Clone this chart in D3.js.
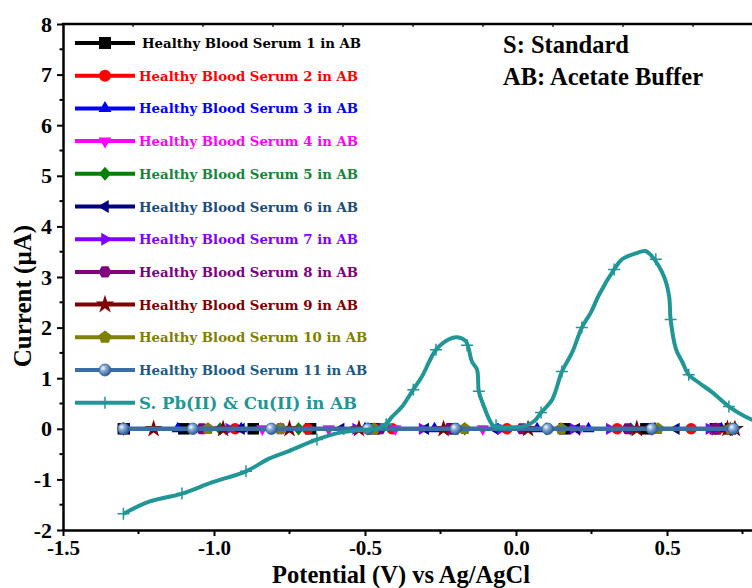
<!DOCTYPE html>
<html><head><meta charset="utf-8">
<script src="https://cdn.jsdelivr.net/npm/d3@7"></script>
<style>body{margin:0;background:#fff} svg{display:block}</style>
</head><body><svg id="c" width="752" height="588"></svg>
<script>
// ---------------- DATA ----------------
const seriesNames = [
  "Healthy Blood Serum 1 in AB","Healthy Blood Serum 2 in AB","Healthy Blood Serum 3 in AB",
  "Healthy Blood Serum 4 in AB","Healthy Blood Serum 5 in AB","Healthy Blood Serum 6 in AB",
  "Healthy Blood Serum 7 in AB","Healthy Blood Serum 8 in AB","Healthy Blood Serum 9 in AB",
  "Healthy Blood Serum 10 in AB","Healthy Blood Serum 11 in AB"
];
const standardName = "S. Pb(II) & Cu(II) in AB";
const seriesColors = ["#000000","#ff0000","#0000ff","#ff00ff","#008000","#000080","#8000ff","#800080","#800000","#808000","#3a6ea5"];
const textColors   = ["#000000","#ff0000","#0000ff","#ff00ff","#13873b","#1a4c7e","#8000ff","#800080","#800000","#808000","#1a5a82"];
const seriesSymbols = ["square","circle","triUp","triDown","diamond","triLeft","triRight","hexagon","star","pentagon","sphere"];
const standardColor = "#209696";

// potentials (V) of the plotted points of each healthy serum series
const serumPotentials = [
  [-1.30,-1.10,-0.87,-0.68,-0.47,-0.21,0.16,0.43,0.66,0.71],
  [-1.30,-0.93,-0.69,-0.41,-0.03,0.335,0.58,0.67,0.71],
  [-1.30,-1.12,-0.91,-0.50,-0.27,0.07,0.24,0.46,0.68,0.71],
  [-1.30,-0.84,-0.62,-0.40,-0.11,0.21,0.45,0.65,0.71],
  [-1.30,-0.98,-0.72,-0.49,-0.17,0.10,0.38,0.66,0.71],
  [-1.29,-0.91,-0.58,-0.30,-0.07,0.20,0.53,0.70],
  [-1.30,-0.95,-0.53,-0.31,-0.05,0.19,0.31,0.64,0.71],
  [-1.30,-1.04,-0.78,-0.45,-0.22,0.02,0.37,0.66,0.71],
  [-1.20,-0.97,-0.75,-0.52,-0.24,0.04,0.40,0.70,0.725],
  [-1.30,-1.02,-0.78,-0.47,-0.17,0.15,0.47,0.71],
  [-1.30,-1.07,-0.81,-0.49,-0.20,0.105,0.45,0.72]
];
// currents (µA) of those points
const serumCurrents = [
  [0,0,0,0,0,0,0,0,0,0],
  [0,0,0,0,0,0,0,0,0],
  [0,0,0,0,0,0,0,0,0,0],
  [0,0,0,0,0,0,0,0,0],
  [0,0,0,0,0,0,0,0,0],
  [0,0,0,0,0,0,0,0],
  [0,0,0,0,0,0,0,0,0],
  [0,0,0,0,0,0,0,0,0],
  [0,0,0,0,0,0,0,0,0],
  [0,0,0,0,0,0,0,0],
  [0,0,0,0,0,0,0,0]
];

// standard Pb(II) & Cu(II) curve
const stdPotential = [-1.30,-1.215,-1.106,-1.007,-0.894,-0.818,-0.752,-0.659,-0.586,-0.50,-0.46,-0.43,-0.41,-0.377,-0.344,-0.311,-0.265,-0.222,-0.195,-0.166,-0.146,-0.129,-0.123,-0.106,-0.089,-0.073,-0.023,0.026,0.06,0.083,0.12,0.152,0.186,0.218,0.248,0.275,0.325,0.351,0.397,0.43,0.45,0.49,0.507,0.512,0.53,0.55,0.572,0.606,0.65,0.705,0.76,0.79];
const stdCurrent   = [-1.68,-1.44,-1.28,-1.06,-0.84,-0.59,-0.44,-0.21,-0.08,-0.02,0.0,0.10,0.24,0.44,0.74,1.04,1.56,1.77,1.81,1.73,1.33,1.17,0.74,0.44,0.19,0.05,0.03,0.05,0.15,0.32,0.58,1.13,1.51,2.00,2.30,2.65,3.15,3.35,3.47,3.51,3.41,3.01,2.62,2.16,1.57,1.33,1.07,0.91,0.72,0.44,0.24,0.16];
const stdMarkerPotential = [-1.30,-1.106,-0.894,-0.659,-0.43,-0.340,-0.265,-0.162,-0.123,-0.066,0.083,0.152,0.218,0.325,0.463,0.512,0.572,0.705];
const stdMarkerCurrent   = [-1.68,-1.28,-0.84,-0.21,0.09,0.77,1.56,1.65,0.74,0.07,0.32,1.13,2.00,3.15,3.35,2.16,1.07,0.44];

const xMajorTicks = [-1.5,-1.0,-0.5,0.0,0.5];
const xMinorTicks = [-1.25,-0.75,-0.25,0.25,0.75];
const yMajorTicks = [-2,-1,0,1,2,3,4,5,6,7,8];
const yMinorTicks = [-1.5,-0.5,0.5,1.5,2.5,3.5,4.5,5.5,6.5,7.5];

const xTitle = "Potential (V) vs Ag/AgCl";
const yTitle = "Current (\u00B5A)";
const notes = ["S: Standard","AB: Acetate Buffer"];

// ---------------- CHART ----------------
const svg = d3.select("#c");
const L = 63, T = 24, B = 530;
const x = d3.scaleLinear().domain([-1.5, 0.8]).range([L, 757.6]);
const y = d3.scaleLinear().domain([-2, 8]).range([B, T]);
const serif = "'Liberation Serif','Times New Roman',serif";
const legendFont = "'DejaVu Serif',serif";

const defs = svg.append("defs");
const grad = defs.append("radialGradient").attr("id","sph").attr("cx","35%").attr("cy","35%").attr("r","65%");
grad.append("stop").attr("offset","0%").attr("stop-color","#ffffff");
grad.append("stop").attr("offset","35%").attr("stop-color","#8fb0d6");
grad.append("stop").attr("offset","100%").attr("stop-color","#2f5f96");
defs.append("clipPath").attr("id","clip").append("rect").attr("x",L).attr("y",T).attr("width",752-L).attr("height",B-T);

function poly(n, r, rot) {
  const pts = [];
  for (let k = 0; k < n; k++) {
    const a = rot + k * 2 * Math.PI / n;
    pts.push([r * Math.cos(a), r * Math.sin(a)]);
  }
  return "M" + pts.map(p => p[0].toFixed(2) + "," + p[1].toFixed(2)).join("L") + "Z";
}
function symbolPath(type, s) {
  switch (type) {
    case "square": return `M${-s/2},${-s/2}h${s}v${s}h${-s}z`;
    case "circle": return d3.symbol(d3.symbolCircle, Math.PI * (s/2) * (s/2))();
    case "triUp": return poly(3, s*0.62, -Math.PI/2);
    case "triDown": return poly(3, s*0.62, Math.PI/2);
    case "triLeft": return poly(3, s*0.62, Math.PI);
    case "triRight": return poly(3, s*0.62, 0);
    case "diamond": return `M0,${-s*0.58}L${s*0.5},0L0,${s*0.58}L${-s*0.5},0Z`;
    case "hexagon": return poly(6, s*0.55, 0);
    case "pentagon": return poly(5, s*0.56, -Math.PI/2);
    case "star": return d3.symbol(d3.symbolStar, s*s*0.75)();
    case "sphere": return d3.symbol(d3.symbolCircle, Math.PI * (s/2) * (s/2))();
  }
}
function drawMarker(g, type, color, cx, cy, s) {
  const p = g.append("path").attr("d", symbolPath(type, s)).attr("transform", `translate(${cx},${cy})`);
  if (type === "sphere") p.attr("fill","url(#sph)").attr("stroke","#2f5f96").attr("stroke-width",0.8);
  else p.attr("fill", color);
}

const plot = svg.append("g").attr("clip-path","url(#clip)");
const line = d3.line().x(d => x(d[0])).y(d => y(d[1]));

// serum series
serumPotentials.forEach((pv, si) => {
  const pts = pv.map((v, k) => [v, serumCurrents[si][k]]);
  const g = plot.append("g");
  g.append("path").attr("d", line(pts)).attr("fill","none")
    .attr("stroke", seriesColors[si]).attr("stroke-width", si === 10 ? 4.5 : 3.5);
  pts.forEach(p => drawMarker(g, seriesSymbols[si], seriesColors[si], x(p[0]), y(p[1]), 11.5));
});

// standard
const stdLine = d3.line().x(d => x(d[0])).y(d => y(d[1])).curve(d3.curveCatmullRom.alpha(0.5));
plot.append("path").attr("d", stdLine(stdPotential.map((v,k)=>[v, stdCurrent[k]])))
  .attr("fill","none").attr("stroke", standardColor).attr("stroke-width", 4).attr("stroke-linejoin","round");
stdMarkerPotential.forEach((v, k) => {
  const cx = x(v), cy = y(stdMarkerCurrent[k]);
  plot.append("path").attr("d", `M${cx-6},${cy}H${cx+6}M${cx},${cy-6}V${cy+6}`)
    .attr("stroke", standardColor).attr("stroke-width", 1.5);
});

// axes
const xAxis = d3.axisBottom(x).tickValues(xMajorTicks).tickFormat(d => d.toFixed(1)).tickSize(6).tickSizeOuter(0).tickPadding(4);
const gx = svg.append("g").attr("transform", `translate(0,${B})`).call(xAxis);
gx.select(".domain").attr("stroke-width", 2.5);
gx.selectAll(".tick line").attr("stroke-width", 2);
gx.selectAll("text").attr("font-family", serif).attr("font-weight","bold").attr("font-size", 21).attr("fill","#000");
gx.selectAll(".minor").data(xMinorTicks).enter().append("line").attr("class","minor")
  .attr("x1", d => x(d)).attr("x2", d => x(d)).attr("y1", 0).attr("y2", 4).attr("stroke","#000").attr("stroke-width",2);

const yAxis = d3.axisLeft(y).tickValues(yMajorTicks).tickFormat(d => String(d).replace("\u2212","-")).tickSize(6).tickSizeOuter(0).tickPadding(5);
const gy = svg.append("g").attr("transform", `translate(${L},0)`).call(yAxis);
gy.select(".domain").attr("stroke-width", 2.5);
gy.selectAll(".tick line").attr("stroke-width", 2);
gy.selectAll("text").attr("font-family", serif).attr("font-weight","bold").attr("font-size", 22).attr("fill","#000");
gy.selectAll(".minor").data(yMinorTicks).enter().append("line").attr("class","minor")
  .attr("x1", 0).attr("x2", -3.5).attr("y1", d => y(d)).attr("y2", d => y(d)).attr("stroke","#000").attr("stroke-width",2);

// top frame with small inner ticks
const xTop = d3.scaleLinear().domain([0, 10]).range([L, L + 700]);
svg.append("line").attr("x1", L - 1.2).attr("x2", 760).attr("y1", T).attr("y2", T).attr("stroke","#000").attr("stroke-width",2.5);
svg.append("g").selectAll("line").data(d3.range(1, 10)).enter().append("line")
  .attr("x1", d => xTop(d)).attr("x2", d => xTop(d)).attr("y1", T).attr("y2", T + 3).attr("stroke","#000").attr("stroke-width",1.2);

// titles
svg.append("text").attr("x", 401).attr("y", 582.5).attr("text-anchor","middle")
  .attr("font-family", serif).attr("font-weight","bold").attr("font-size", 24.5).text(xTitle);
svg.append("text").attr("transform","translate(31,296) rotate(-90)").attr("text-anchor","middle")
  .attr("font-family", serif).attr("font-weight","bold").attr("font-size", 25).text(yTitle);

// notes
notes.forEach((t, k) => svg.append("text").attr("x", 503).attr("y", 53 + 32 * k)
  .attr("font-family", serif).attr("font-weight","bold").attr("font-size", 24.5).text(t));

// legend
const lg = svg.append("g");
const rowY = d => 43 + d * 32.7;
seriesNames.forEach((name, si) => {
  const yy = rowY(si);
  lg.append("line").attr("x1",75).attr("x2",135).attr("y1",yy).attr("y2",yy)
    .attr("stroke", seriesColors[si]).attr("stroke-width",4);
  drawMarker(lg, seriesSymbols[si], seriesColors[si], 105, yy, 12);
  lg.append("text").attr("x", si === 0 ? 142 : 139).attr("y", yy + 5)
    .attr("font-family", legendFont).attr("font-weight","bold").attr("font-size", 13.3)
    .attr("fill", textColors[si]).text(name);
});
{
  const yy = rowY(11);
  lg.append("line").attr("x1",75).attr("x2",135).attr("y1",yy).attr("y2",yy).attr("stroke", standardColor).attr("stroke-width",4);
  lg.append("path").attr("d", `M99,${yy}H111M105,${yy-6}V${yy+6}`).attr("stroke", standardColor).attr("stroke-width",1.5);
  lg.append("text").attr("x",139).attr("y", yy + 6).attr("font-family", legendFont).attr("font-weight","bold")
    .attr("font-size", 16.6).attr("fill", standardColor).text(standardName);
}
</script></body></html>
